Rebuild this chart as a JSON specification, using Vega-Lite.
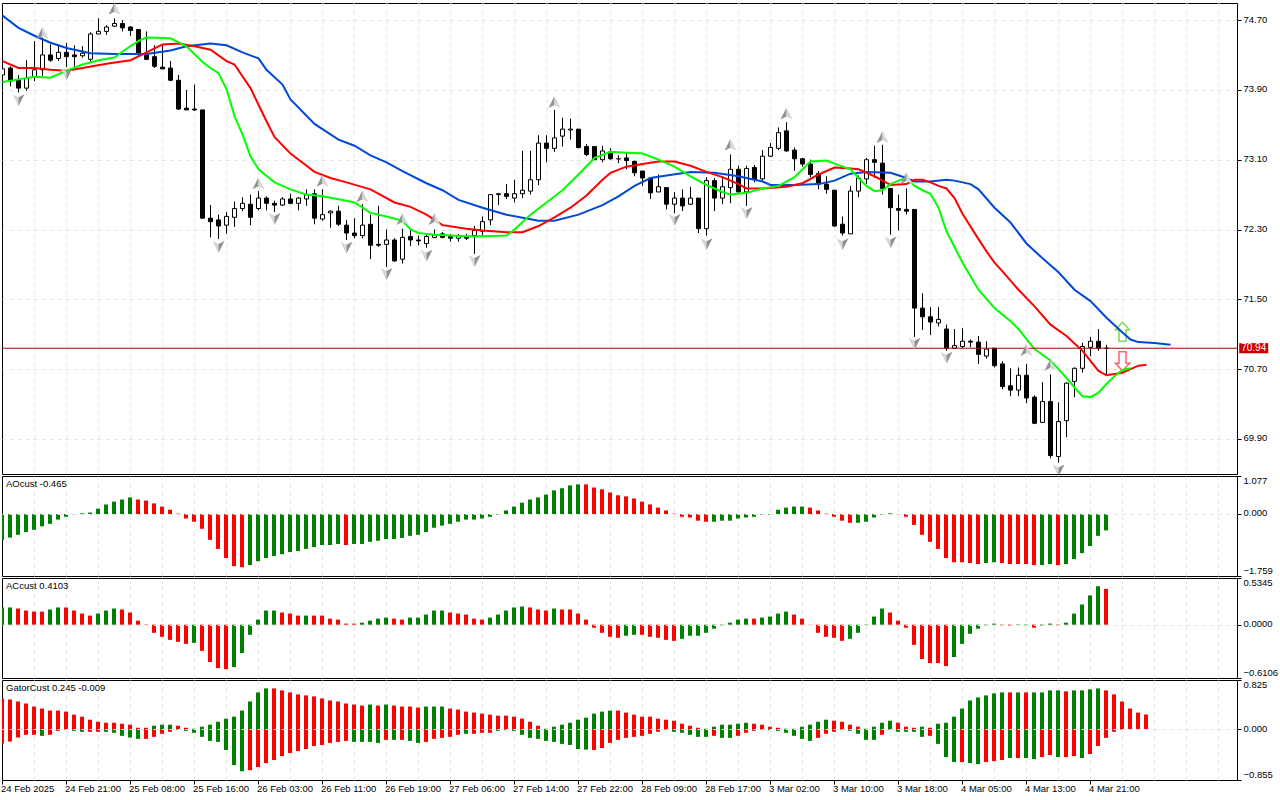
{
  "$schema": "https://vega.github.io/schema/vega-lite/v6.json",
  "background": "white",
  "padding": {"left": 0, "top": 2, "right": 0, "bottom": 0},
  "spacing": 2,
  "bounds": "flush",
  "resolve": {"scale": {"color": "independent"}},
  "config": {
    "view": {"stroke": "black", "strokeWidth": 1},
    "font": "Liberation Sans",
    "axis": {"labelFont": "Liberation Sans", "labelFontSize": 9.5, "labelColor": "black", "tickColor": "black", "gridColor": "#e4e4e4", "gridDash": [4, 4], "gridWidth": 1, "domain": false, "title": null, "labelBound": false}
  },
  "datasets": {
    "candles": [
      {"i":0,"o":74.07,"h":74.19,"l":74.02,"c":74.14},{"i":1,"o":74.15,"h":74.17,"l":73.94,"c":74.00},{"i":2,"o":74.01,"h":74.07,"l":73.87,"c":73.92},{"i":3,"o":73.92,"h":74.24,"l":73.89,"c":74.03},{"i":4,"o":74.05,"h":74.46,"l":74.00,"c":74.13},{"i":5,"o":74.13,"h":74.50,"l":74.06,"c":74.30},{"i":6,"o":74.30,"h":74.42,"l":74.22,"c":74.24},{"i":7,"o":74.26,"h":74.42,"l":74.23,"c":74.33},{"i":8,"o":74.33,"h":74.44,"l":74.16,"c":74.28},{"i":9,"o":74.30,"h":74.41,"l":74.15,"c":74.28},
      {"i":10,"o":74.29,"h":74.40,"l":74.27,"c":74.32},{"i":11,"o":74.25,"h":74.56,"l":74.21,"c":74.54},{"i":12,"o":74.54,"h":74.72,"l":74.54,"c":74.57},{"i":13,"o":74.57,"h":74.64,"l":74.53,"c":74.62},{"i":14,"o":74.63,"h":74.72,"l":74.62,"c":74.66},{"i":15,"o":74.66,"h":74.70,"l":74.57,"c":74.61},{"i":16,"o":74.62,"h":74.63,"l":74.52,"c":74.58},{"i":17,"o":74.59,"h":74.59,"l":74.29,"c":74.32},{"i":18,"o":74.30,"h":74.57,"l":74.24,"c":74.25},{"i":19,"o":74.28,"h":74.41,"l":74.15,"c":74.17},
      {"i":20,"o":74.16,"h":74.42,"l":74.14,"c":74.14},{"i":21,"o":74.15,"h":74.23,"l":74.00,"c":74.01},{"i":22,"o":74.01,"h":74.07,"l":73.67,"c":73.68},{"i":23,"o":73.69,"h":73.90,"l":73.67,"c":73.67},{"i":24,"o":73.68,"h":73.96,"l":73.66,"c":73.67},{"i":25,"o":73.67,"h":73.67,"l":72.42,"c":72.43},{"i":26,"o":72.43,"h":72.58,"l":72.21,"c":72.39},{"i":27,"o":72.41,"h":72.47,"l":72.19,"c":72.34},{"i":28,"o":72.35,"h":72.50,"l":72.25,"c":72.45},{"i":29,"o":72.44,"h":72.62,"l":72.33,"c":72.54},
      {"i":30,"o":72.54,"h":72.67,"l":72.51,"c":72.60},{"i":31,"o":72.59,"h":72.70,"l":72.35,"c":72.44},{"i":32,"o":72.54,"h":72.74,"l":72.52,"c":72.66},{"i":33,"o":72.66,"h":72.68,"l":72.52,"c":72.60},{"i":34,"o":72.60,"h":72.63,"l":72.50,"c":72.58},{"i":35,"o":72.58,"h":72.67,"l":72.57,"c":72.65},{"i":36,"o":72.65,"h":72.71,"l":72.59,"c":72.60},{"i":37,"o":72.60,"h":72.67,"l":72.52,"c":72.66},{"i":38,"o":72.65,"h":72.76,"l":72.57,"c":72.70},{"i":39,"o":72.71,"h":72.76,"l":72.36,"c":72.43},
      {"i":40,"o":72.42,"h":72.76,"l":72.40,"c":72.47},{"i":41,"o":72.49,"h":72.52,"l":72.32,"c":72.51},{"i":42,"o":72.51,"h":72.57,"l":72.34,"c":72.36},{"i":43,"o":72.35,"h":72.41,"l":72.18,"c":72.26},{"i":44,"o":72.26,"h":72.43,"l":72.20,"c":72.23},{"i":45,"o":72.23,"h":72.59,"l":72.20,"c":72.35},{"i":46,"o":72.36,"h":72.47,"l":71.96,"c":72.12},{"i":47,"o":72.13,"h":72.57,"l":72.10,"c":72.12},{"i":48,"o":72.13,"h":72.30,"l":71.87,"c":72.18},{"i":49,"o":72.18,"h":72.20,"l":71.93,"c":71.94},
      {"i":50,"o":71.96,"h":72.31,"l":71.91,"c":72.21},{"i":51,"o":72.22,"h":72.31,"l":72.11,"c":72.18},{"i":52,"o":72.18,"h":72.23,"l":72.12,"c":72.17},{"i":53,"o":72.14,"h":72.25,"l":72.09,"c":72.22},{"i":54,"o":72.21,"h":72.30,"l":72.20,"c":72.24},{"i":55,"o":72.25,"h":72.27,"l":72.20,"c":72.21},{"i":56,"o":72.22,"h":72.25,"l":72.16,"c":72.20},{"i":57,"o":72.20,"h":72.25,"l":72.16,"c":72.23},{"i":58,"o":72.22,"h":72.25,"l":72.18,"c":72.20},{"i":59,"o":72.23,"h":72.34,"l":72.02,"c":72.29},
      {"i":60,"o":72.28,"h":72.45,"l":72.23,"c":72.39},{"i":61,"o":72.41,"h":72.70,"l":72.35,"c":72.70},{"i":62,"o":72.70,"h":72.72,"l":72.58,"c":72.71},{"i":63,"o":72.71,"h":72.82,"l":72.65,"c":72.68},{"i":64,"o":72.66,"h":72.87,"l":72.61,"c":72.71},{"i":65,"o":72.71,"h":73.20,"l":72.66,"c":72.75},{"i":66,"o":72.74,"h":73.20,"l":72.70,"c":72.87},{"i":67,"o":72.87,"h":73.38,"l":72.81,"c":73.29},{"i":68,"o":73.29,"h":73.38,"l":73.07,"c":73.23},{"i":69,"o":73.23,"h":73.67,"l":73.19,"c":73.35},
      {"i":70,"o":73.37,"h":73.58,"l":73.25,"c":73.45},{"i":71,"o":73.44,"h":73.57,"l":73.33,"c":73.45},{"i":72,"o":73.45,"h":73.45,"l":73.23,"c":73.24},{"i":73,"o":73.25,"h":73.28,"l":73.14,"c":73.16},{"i":74,"o":73.25,"h":73.25,"l":73.10,"c":73.10},{"i":75,"o":73.10,"h":73.26,"l":73.07,"c":73.20},{"i":76,"o":73.19,"h":73.23,"l":73.10,"c":73.11},{"i":77,"o":73.11,"h":73.15,"l":73.06,"c":73.11},{"i":78,"o":73.12,"h":73.18,"l":72.99,"c":73.09},{"i":79,"o":73.08,"h":73.09,"l":72.91,"c":72.95},
      {"i":80,"o":72.97,"h":72.97,"l":72.80,"c":72.89},{"i":81,"o":72.89,"h":72.89,"l":72.65,"c":72.72},{"i":82,"o":72.73,"h":72.93,"l":72.73,"c":72.79},{"i":83,"o":72.78,"h":72.78,"l":72.53,"c":72.59},{"i":84,"o":72.59,"h":72.73,"l":72.49,"c":72.66},{"i":85,"o":72.66,"h":72.76,"l":72.51,"c":72.57},{"i":86,"o":72.59,"h":72.79,"l":72.58,"c":72.66},{"i":87,"o":72.66,"h":72.66,"l":72.26,"c":72.31},{"i":88,"o":72.31,"h":72.90,"l":72.23,"c":72.86},{"i":89,"o":72.86,"h":72.89,"l":72.51,"c":72.66},
      {"i":90,"o":72.66,"h":72.91,"l":72.59,"c":72.79},{"i":91,"o":72.78,"h":73.16,"l":72.60,"c":72.99},{"i":92,"o":72.99,"h":73.03,"l":72.72,"c":72.73},{"i":93,"o":72.73,"h":73.03,"l":72.57,"c":73.00},{"i":94,"o":73.01,"h":73.04,"l":72.84,"c":72.87},{"i":95,"o":72.88,"h":73.21,"l":72.86,"c":73.14},{"i":96,"o":73.14,"h":73.29,"l":73.13,"c":73.24},{"i":97,"o":73.23,"h":73.47,"l":73.21,"c":73.41},{"i":98,"o":73.43,"h":73.53,"l":73.19,"c":73.20},{"i":99,"o":73.21,"h":73.24,"l":72.97,"c":73.11},
      {"i":100,"o":73.11,"h":73.12,"l":73.02,"c":73.05},{"i":101,"o":73.05,"h":73.10,"l":72.90,"c":72.93},{"i":102,"o":72.94,"h":72.97,"l":72.76,"c":72.82},{"i":103,"o":72.82,"h":72.91,"l":72.71,"c":72.76},{"i":104,"o":72.75,"h":72.75,"l":72.33,"c":72.34},{"i":105,"o":72.36,"h":72.45,"l":72.23,"c":72.26},{"i":106,"o":72.25,"h":72.80,"l":72.25,"c":72.74},{"i":107,"o":72.74,"h":72.92,"l":72.67,"c":72.89},{"i":108,"o":72.88,"h":73.12,"l":72.82,"c":73.10},{"i":109,"o":73.10,"h":73.26,"l":72.89,"c":73.07},
      {"i":110,"o":73.06,"h":73.27,"l":72.70,"c":72.77},{"i":111,"o":72.77,"h":72.77,"l":72.24,"c":72.55},{"i":112,"o":72.54,"h":72.70,"l":72.29,"c":72.52},{"i":113,"o":72.53,"h":72.77,"l":72.47,"c":72.51},{"i":114,"o":72.53,"h":72.53,"l":71.07,"c":71.40},{"i":115,"o":71.40,"h":71.57,"l":71.15,"c":71.30},{"i":116,"o":71.30,"h":71.41,"l":71.09,"c":71.24},{"i":117,"o":71.23,"h":71.41,"l":71.19,"c":71.27},{"i":118,"o":71.16,"h":71.21,"l":70.91,"c":70.94},{"i":119,"o":70.94,"h":71.16,"l":70.94,"c":70.97},
      {"i":120,"o":70.96,"h":71.17,"l":70.94,"c":71.02},{"i":121,"o":71.02,"h":71.04,"l":70.95,"c":71.01},{"i":122,"o":71.01,"h":71.08,"l":70.76,"c":70.87},{"i":123,"o":70.85,"h":71.02,"l":70.82,"c":70.93},{"i":124,"o":70.94,"h":70.94,"l":70.72,"c":70.74},{"i":125,"o":70.76,"h":70.79,"l":70.47,"c":70.50},{"i":126,"o":70.51,"h":70.71,"l":70.39,"c":70.46},{"i":127,"o":70.46,"h":70.72,"l":70.39,"c":70.63},{"i":128,"o":70.63,"h":70.76,"l":70.31,"c":70.37},{"i":129,"o":70.38,"h":70.40,"l":70.07,"c":70.08},
      {"i":130,"o":70.09,"h":70.55,"l":70.09,"c":70.33},{"i":131,"o":70.33,"h":70.64,"l":69.68,"c":69.71},{"i":132,"o":69.70,"h":70.32,"l":69.63,"c":70.10},{"i":133,"o":70.11,"h":70.55,"l":69.92,"c":70.54},{"i":134,"o":70.56,"h":70.72,"l":70.38,"c":70.71},{"i":135,"o":70.71,"h":71.00,"l":70.66,"c":70.96},{"i":136,"o":70.95,"h":71.07,"l":70.85,"c":71.02},{"i":137,"o":71.02,"h":71.16,"l":70.91,"c":70.94},{"i":138,"o":70.94,"h":70.98,"l":70.63,"c":70.94}
    ],
    "alligator": [
      {"i":0,"v":74.75,"s":"Jaws"},{"i":2,"v":74.61,"s":"Jaws"},{"i":4,"v":74.52,"s":"Jaws"},{"i":6,"v":74.44,"s":"Jaws"},{"i":8,"v":74.38,"s":"Jaws"},{"i":11,"v":74.32,"s":"Jaws"},{"i":14,"v":74.31,"s":"Jaws"},{"i":18,"v":74.31,"s":"Jaws"},{"i":21,"v":74.35,"s":"Jaws"},{"i":23,"v":74.40,"s":"Jaws"},{"i":26,"v":74.43,"s":"Jaws"},{"i":28,"v":74.41,"s":"Jaws"},{"i":30,"v":74.33,"s":"Jaws"},{"i":32,"v":74.26,"s":"Jaws"},{"i":33,"v":74.13,"s":"Jaws"},{"i":35,"v":73.96,"s":"Jaws"},{"i":36,"v":73.79,"s":"Jaws"},{"i":39,"v":73.51,"s":"Jaws"},{"i":42,"v":73.33,"s":"Jaws"},{"i":44,"v":73.26,"s":"Jaws"},{"i":46,"v":73.15,"s":"Jaws"},{"i":48,"v":73.07,"s":"Jaws"},{"i":50,"v":72.97,"s":"Jaws"},{"i":53,"v":72.83,"s":"Jaws"},{"i":55,"v":72.75,"s":"Jaws"},{"i":57,"v":72.64,"s":"Jaws"},{"i":60,"v":72.55,"s":"Jaws"},{"i":63,"v":72.47,"s":"Jaws"},{"i":67,"v":72.40,"s":"Jaws"},{"i":69,"v":72.40,"s":"Jaws"},{"i":72,"v":72.47,"s":"Jaws"},{"i":75,"v":72.58,"s":"Jaws"},{"i":77,"v":72.68,"s":"Jaws"},{"i":79,"v":72.80,"s":"Jaws"},{"i":81,"v":72.89,"s":"Jaws"},{"i":83,"v":72.92,"s":"Jaws"},{"i":86,"v":72.96,"s":"Jaws"},{"i":89,"v":72.95,"s":"Jaws"},{"i":92,"v":72.91,"s":"Jaws"},{"i":95,"v":72.85,"s":"Jaws"},{"i":96,"v":72.81,"s":"Jaws"},{"i":99,"v":72.81,"s":"Jaws"},{"i":102,"v":72.82,"s":"Jaws"},{"i":104,"v":72.86,"s":"Jaws"},{"i":106,"v":72.94,"s":"Jaws"},{"i":108,"v":72.96,"s":"Jaws"},{"i":111,"v":72.95,"s":"Jaws"},{"i":113,"v":72.89,"s":"Jaws"},{"i":114,"v":72.85,"s":"Jaws"},{"i":116,"v":72.85,"s":"Jaws"},{"i":118,"v":72.87,"s":"Jaws"},{"i":119,"v":72.86,"s":"Jaws"},{"i":121,"v":72.82,"s":"Jaws"},{"i":122,"v":72.76,"s":"Jaws"},{"i":124,"v":72.55,"s":"Jaws"},{"i":126,"v":72.38,"s":"Jaws"},{"i":128,"v":72.14,"s":"Jaws"},{"i":130,"v":71.97,"s":"Jaws"},{"i":132,"v":71.81,"s":"Jaws"},{"i":134,"v":71.61,"s":"Jaws"},{"i":136,"v":71.48,"s":"Jaws"},{"i":138,"v":71.29,"s":"Jaws"},{"i":140,"v":71.12,"s":"Jaws"},{"i":141,"v":71.04,"s":"Jaws"},{"i":142,"v":71.01,"s":"Jaws"},{"i":144,"v":71.00,"s":"Jaws"},{"i":146,"v":70.98,"s":"Jaws"},
      {"i":0,"v":74.23,"s":"Teeth"},{"i":2,"v":74.15,"s":"Teeth"},{"i":4,"v":74.15,"s":"Teeth"},{"i":6,"v":74.13,"s":"Teeth"},{"i":8,"v":74.12,"s":"Teeth"},{"i":10,"v":74.15,"s":"Teeth"},{"i":13,"v":74.20,"s":"Teeth"},{"i":16,"v":74.24,"s":"Teeth"},{"i":18,"v":74.33,"s":"Teeth"},{"i":20,"v":74.42,"s":"Teeth"},{"i":22,"v":74.43,"s":"Teeth"},{"i":24,"v":74.40,"s":"Teeth"},{"i":26,"v":74.36,"s":"Teeth"},{"i":28,"v":74.23,"s":"Teeth"},{"i":29,"v":74.19,"s":"Teeth"},{"i":31,"v":73.92,"s":"Teeth"},{"i":33,"v":73.54,"s":"Teeth"},{"i":34,"v":73.36,"s":"Teeth"},{"i":36,"v":73.17,"s":"Teeth"},{"i":39,"v":72.96,"s":"Teeth"},{"i":41,"v":72.89,"s":"Teeth"},{"i":43,"v":72.84,"s":"Teeth"},{"i":46,"v":72.76,"s":"Teeth"},{"i":49,"v":72.61,"s":"Teeth"},{"i":51,"v":72.56,"s":"Teeth"},{"i":53,"v":72.47,"s":"Teeth"},{"i":55,"v":72.35,"s":"Teeth"},{"i":58,"v":72.31,"s":"Teeth"},{"i":60,"v":72.29,"s":"Teeth"},{"i":63,"v":72.27,"s":"Teeth"},{"i":65,"v":72.27,"s":"Teeth"},{"i":67,"v":72.34,"s":"Teeth"},{"i":69,"v":72.44,"s":"Teeth"},{"i":71,"v":72.55,"s":"Teeth"},{"i":73,"v":72.69,"s":"Teeth"},{"i":75,"v":72.87,"s":"Teeth"},{"i":76,"v":72.95,"s":"Teeth"},{"i":78,"v":73.02,"s":"Teeth"},{"i":80,"v":73.05,"s":"Teeth"},{"i":82,"v":73.08,"s":"Teeth"},{"i":84,"v":73.08,"s":"Teeth"},{"i":86,"v":73.03,"s":"Teeth"},{"i":88,"v":72.96,"s":"Teeth"},{"i":90,"v":72.90,"s":"Teeth"},{"i":92,"v":72.82,"s":"Teeth"},{"i":93,"v":72.77,"s":"Teeth"},{"i":95,"v":72.77,"s":"Teeth"},{"i":98,"v":72.79,"s":"Teeth"},{"i":100,"v":72.83,"s":"Teeth"},{"i":102,"v":72.93,"s":"Teeth"},{"i":104,"v":73.01,"s":"Teeth"},{"i":106,"v":73.00,"s":"Teeth"},{"i":107,"v":72.99,"s":"Teeth"},{"i":109,"v":72.91,"s":"Teeth"},{"i":110,"v":72.86,"s":"Teeth"},{"i":111,"v":72.81,"s":"Teeth"},{"i":113,"v":72.82,"s":"Teeth"},{"i":114,"v":72.87,"s":"Teeth"},{"i":115,"v":72.87,"s":"Teeth"},{"i":116,"v":72.84,"s":"Teeth"},{"i":117,"v":72.80,"s":"Teeth"},{"i":118,"v":72.77,"s":"Teeth"},{"i":119,"v":72.66,"s":"Teeth"},{"i":120,"v":72.48,"s":"Teeth"},{"i":122,"v":72.19,"s":"Teeth"},{"i":123,"v":72.05,"s":"Teeth"},{"i":124,"v":71.92,"s":"Teeth"},{"i":125,"v":71.82,"s":"Teeth"},{"i":127,"v":71.61,"s":"Teeth"},{"i":129,"v":71.42,"s":"Teeth"},{"i":131,"v":71.21,"s":"Teeth"},{"i":133,"v":71.08,"s":"Teeth"},{"i":135,"v":70.91,"s":"Teeth"},{"i":137,"v":70.68,"s":"Teeth"},{"i":138,"v":70.63,"s":"Teeth"},{"i":140,"v":70.66,"s":"Teeth"},{"i":141,"v":70.70,"s":"Teeth"},{"i":142,"v":70.74,"s":"Teeth"},{"i":143,"v":70.75,"s":"Teeth"},
      {"i":0,"v":73.99,"s":"Lips"},{"i":2,"v":74.02,"s":"Lips"},{"i":4,"v":74.05,"s":"Lips"},{"i":6,"v":74.04,"s":"Lips"},{"i":8,"v":74.12,"s":"Lips"},{"i":10,"v":74.19,"s":"Lips"},{"i":12,"v":74.24,"s":"Lips"},{"i":14,"v":74.27,"s":"Lips"},{"i":15,"v":74.34,"s":"Lips"},{"i":17,"v":74.46,"s":"Lips"},{"i":18,"v":74.50,"s":"Lips"},{"i":21,"v":74.49,"s":"Lips"},{"i":23,"v":74.40,"s":"Lips"},{"i":25,"v":74.22,"s":"Lips"},{"i":26,"v":74.15,"s":"Lips"},{"i":27,"v":74.09,"s":"Lips"},{"i":28,"v":73.91,"s":"Lips"},{"i":29,"v":73.60,"s":"Lips"},{"i":30,"v":73.39,"s":"Lips"},{"i":31,"v":73.14,"s":"Lips"},{"i":32,"v":72.99,"s":"Lips"},{"i":34,"v":72.84,"s":"Lips"},{"i":36,"v":72.76,"s":"Lips"},{"i":38,"v":72.70,"s":"Lips"},{"i":40,"v":72.68,"s":"Lips"},{"i":43,"v":72.63,"s":"Lips"},{"i":44,"v":72.61,"s":"Lips"},{"i":46,"v":72.49,"s":"Lips"},{"i":48,"v":72.45,"s":"Lips"},{"i":50,"v":72.40,"s":"Lips"},{"i":51,"v":72.30,"s":"Lips"},{"i":52,"v":72.26,"s":"Lips"},{"i":53,"v":72.25,"s":"Lips"},{"i":54,"v":72.24,"s":"Lips"},{"i":56,"v":72.23,"s":"Lips"},{"i":59,"v":72.22,"s":"Lips"},{"i":63,"v":72.23,"s":"Lips"},{"i":64,"v":72.30,"s":"Lips"},{"i":66,"v":72.47,"s":"Lips"},{"i":68,"v":72.61,"s":"Lips"},{"i":70,"v":72.75,"s":"Lips"},{"i":72,"v":72.93,"s":"Lips"},{"i":74,"v":73.12,"s":"Lips"},{"i":76,"v":73.19,"s":"Lips"},{"i":78,"v":73.18,"s":"Lips"},{"i":80,"v":73.17,"s":"Lips"},{"i":82,"v":73.10,"s":"Lips"},{"i":84,"v":73.02,"s":"Lips"},{"i":86,"v":72.91,"s":"Lips"},{"i":88,"v":72.81,"s":"Lips"},{"i":90,"v":72.73,"s":"Lips"},{"i":91,"v":72.70,"s":"Lips"},{"i":93,"v":72.72,"s":"Lips"},{"i":95,"v":72.77,"s":"Lips"},{"i":97,"v":72.80,"s":"Lips"},{"i":99,"v":72.90,"s":"Lips"},{"i":101,"v":73.08,"s":"Lips"},{"i":103,"v":73.09,"s":"Lips"},{"i":105,"v":73.02,"s":"Lips"},{"i":106,"v":72.99,"s":"Lips"},{"i":107,"v":72.89,"s":"Lips"},{"i":108,"v":72.80,"s":"Lips"},{"i":109,"v":72.74,"s":"Lips"},{"i":110,"v":72.75,"s":"Lips"},{"i":111,"v":72.82,"s":"Lips"},{"i":112,"v":72.86,"s":"Lips"},{"i":113,"v":72.89,"s":"Lips"},{"i":114,"v":72.80,"s":"Lips"},{"i":115,"v":72.75,"s":"Lips"},{"i":116,"v":72.71,"s":"Lips"},{"i":117,"v":72.55,"s":"Lips"},{"i":118,"v":72.28,"s":"Lips"},{"i":120,"v":71.92,"s":"Lips"},{"i":122,"v":71.61,"s":"Lips"},{"i":124,"v":71.40,"s":"Lips"},{"i":126,"v":71.25,"s":"Lips"},{"i":127,"v":71.16,"s":"Lips"},{"i":129,"v":70.93,"s":"Lips"},{"i":131,"v":70.80,"s":"Lips"},{"i":133,"v":70.60,"s":"Lips"},{"i":134,"v":70.49,"s":"Lips"},{"i":135,"v":70.39,"s":"Lips"},{"i":136,"v":70.38,"s":"Lips"},{"i":137,"v":70.43,"s":"Lips"},{"i":138,"v":70.53,"s":"Lips"},{"i":139,"v":70.62,"s":"Lips"},{"i":140,"v":70.69,"s":"Lips"},{"i":141,"v":70.71,"s":"Lips"}
    ],
    "fractalsUp": [{"i":5,"v":74.55},{"i":14,"v":74.83},{"i":32,"v":72.83},{"i":40,"v":72.86},{"i":45,"v":72.68},{"i":50,"v":72.42},{"i":54,"v":72.42},{"i":69,"v":73.76},{"i":91,"v":73.27},{"i":98,"v":73.63},{"i":110,"v":73.36},{"i":113,"v":72.89},{"i":128,"v":70.92},{"i":131,"v":70.75}],
    "fractalsDown": [{"i":2,"v":73.78},{"i":8,"v":74.08},{"i":27,"v":72.10},{"i":34,"v":72.42},{"i":43,"v":72.09},{"i":48,"v":71.79},{"i":53,"v":72.00},{"i":59,"v":71.94},{"i":84,"v":72.41},{"i":88,"v":72.13},{"i":93,"v":72.49},{"i":105,"v":72.13},{"i":111,"v":72.15},{"i":114,"v":70.99},{"i":118,"v":70.83},{"i":132,"v":69.54}],
    "ao": [
      {"i":0,"v":-0.745,"d":"up"},{"i":1,"v":-0.67,"d":"up"},{"i":2,"v":-0.59,"d":"up"},{"i":3,"v":-0.51,"d":"up"},{"i":4,"v":-0.45,"d":"up"},{"i":5,"v":-0.35,"d":"up"},{"i":6,"v":-0.28,"d":"up"},{"i":7,"v":-0.16,"d":"up"},{"i":8,"v":-0.08,"d":"up"},{"i":9,"v":-0.01,"d":"up"},{"i":10,"v":0.02,"d":"up"},{"i":11,"v":0.04,"d":"up"},{"i":12,"v":0.15,"d":"up"},{"i":13,"v":0.27,"d":"up"},{"i":14,"v":0.35,"d":"up"},{"i":15,"v":0.41,"d":"up"},{"i":16,"v":0.47,"d":"up"},{"i":17,"v":0.41,"d":"down"},{"i":18,"v":0.38,"d":"down"},{"i":19,"v":0.30,"d":"down"},{"i":20,"v":0.21,"d":"down"},{"i":21,"v":0.12,"d":"down"},{"i":22,"v":0.01,"d":"down"},{"i":23,"v":-0.13,"d":"down"},{"i":24,"v":-0.22,"d":"down"},{"i":25,"v":-0.42,"d":"down"},{"i":26,"v":-0.735,"d":"down"},{"i":27,"v":-0.99,"d":"down"},{"i":28,"v":-1.25,"d":"down"},{"i":29,"v":-1.48,"d":"down"},{"i":30,"v":-1.51,"d":"down"},{"i":31,"v":-1.45,"d":"up"},{"i":32,"v":-1.34,"d":"up"},{"i":33,"v":-1.25,"d":"up"},{"i":34,"v":-1.19,"d":"up"},{"i":35,"v":-1.14,"d":"up"},{"i":36,"v":-1.08,"d":"up"},{"i":37,"v":-1.05,"d":"up"},{"i":38,"v":-0.99,"d":"up"},{"i":39,"v":-0.94,"d":"up"},{"i":40,"v":-0.88,"d":"up"},{"i":41,"v":-0.88,"d":"up"},{"i":42,"v":-0.85,"d":"up"},{"i":43,"v":-0.88,"d":"down"},{"i":44,"v":-0.85,"d":"up"},{"i":45,"v":-0.85,"d":"up"},{"i":46,"v":-0.79,"d":"up"},{"i":47,"v":-0.76,"d":"up"},{"i":48,"v":-0.71,"d":"up"},{"i":49,"v":-0.71,"d":"up"},{"i":50,"v":-0.68,"d":"up"},{"i":51,"v":-0.62,"d":"up"},{"i":52,"v":-0.59,"d":"up"},{"i":53,"v":-0.51,"d":"up"},
      {"i":54,"v":-0.39,"d":"up"},{"i":55,"v":-0.33,"d":"up"},{"i":56,"v":-0.28,"d":"up"},{"i":57,"v":-0.22,"d":"up"},{"i":58,"v":-0.16,"d":"up"},{"i":59,"v":-0.16,"d":"up"},{"i":60,"v":-0.13,"d":"up"},{"i":61,"v":-0.08,"d":"up"},{"i":62,"v":-0.02,"d":"up"},{"i":63,"v":0.10,"d":"up"},{"i":64,"v":0.21,"d":"up"},{"i":65,"v":0.32,"d":"up"},{"i":66,"v":0.41,"d":"up"},{"i":67,"v":0.47,"d":"up"},{"i":68,"v":0.55,"d":"up"},{"i":69,"v":0.67,"d":"up"},{"i":70,"v":0.73,"d":"up"},{"i":71,"v":0.81,"d":"up"},{"i":72,"v":0.84,"d":"up"},{"i":73,"v":0.84,"d":"down"},{"i":74,"v":0.75,"d":"down"},{"i":75,"v":0.70,"d":"down"},{"i":76,"v":0.61,"d":"down"},{"i":77,"v":0.53,"d":"down"},{"i":78,"v":0.50,"d":"down"},{"i":79,"v":0.44,"d":"down"},{"i":80,"v":0.35,"d":"down"},{"i":81,"v":0.27,"d":"down"},{"i":82,"v":0.18,"d":"down"},{"i":83,"v":0.10,"d":"down"},{"i":84,"v":0.01,"d":"down"},{"i":85,"v":-0.08,"d":"down"},{"i":86,"v":-0.10,"d":"down"},{"i":87,"v":-0.19,"d":"down"},{"i":88,"v":-0.22,"d":"down"},{"i":89,"v":-0.22,"d":"up"},{"i":90,"v":-0.19,"d":"up"},{"i":91,"v":-0.19,"d":"up"},{"i":92,"v":-0.13,"d":"up"},{"i":93,"v":-0.10,"d":"up"},{"i":94,"v":-0.08,"d":"up"},{"i":95,"v":-0.02,"d":"up"},{"i":96,"v":-0.02,"d":"up"},{"i":97,"v":0.12,"d":"up"},{"i":98,"v":0.18,"d":"up"},{"i":99,"v":0.21,"d":"up"},{"i":100,"v":0.21,"d":"up"},{"i":101,"v":0.18,"d":"down"},{"i":102,"v":0.10,"d":"down"},{"i":103,"v":0.01,"d":"down"},{"i":104,"v":-0.08,"d":"down"},{"i":105,"v":-0.19,"d":"down"},{"i":106,"v":-0.25,"d":"down"},
      {"i":107,"v":-0.25,"d":"up"},{"i":108,"v":-0.22,"d":"up"},{"i":109,"v":-0.10,"d":"up"},{"i":110,"v":-0.02,"d":"up"},{"i":111,"v":0.02,"d":"up"},{"i":112,"v":-0.01,"d":"down"},{"i":113,"v":-0.08,"d":"down"},{"i":114,"v":-0.31,"d":"down"},{"i":115,"v":-0.59,"d":"down"},{"i":116,"v":-0.79,"d":"down"},{"i":117,"v":-0.99,"d":"down"},{"i":118,"v":-1.25,"d":"down"},{"i":119,"v":-1.37,"d":"down"},{"i":120,"v":-1.37,"d":"down"},{"i":121,"v":-1.39,"d":"down"},{"i":122,"v":-1.42,"d":"down"},{"i":123,"v":-1.39,"d":"up"},{"i":124,"v":-1.37,"d":"up"},{"i":125,"v":-1.39,"d":"down"},{"i":126,"v":-1.42,"d":"down"},{"i":127,"v":-1.42,"d":"down"},{"i":128,"v":-1.42,"d":"down"},{"i":129,"v":-1.45,"d":"down"},{"i":130,"v":-1.45,"d":"up"},{"i":131,"v":-1.42,"d":"up"},{"i":132,"v":-1.45,"d":"down"},{"i":133,"v":-1.42,"d":"up"},{"i":134,"v":-1.28,"d":"up"},{"i":135,"v":-1.11,"d":"up"},{"i":136,"v":-0.91,"d":"up"},{"i":137,"v":-0.62,"d":"up"},{"i":138,"v":-0.465,"d":"up"}
    ],
    "ac": [
      {"i":0,"v":0.197,"d":"up"},{"i":1,"v":0.197,"d":"up"},{"i":2,"v":0.185,"d":"down"},{"i":3,"v":0.162,"d":"down"},{"i":4,"v":0.15,"d":"down"},{"i":5,"v":0.15,"d":"down"},{"i":6,"v":0.174,"d":"up"},{"i":7,"v":0.197,"d":"up"},{"i":8,"v":0.197,"d":"down"},{"i":9,"v":0.162,"d":"down"},{"i":10,"v":0.127,"d":"down"},{"i":11,"v":0.104,"d":"down"},{"i":12,"v":0.127,"d":"up"},{"i":13,"v":0.162,"d":"up"},{"i":14,"v":0.185,"d":"up"},{"i":15,"v":0.174,"d":"down"},{"i":16,"v":0.139,"d":"down"},{"i":17,"v":0.046,"d":"down"},{"i":18,"v":-0.004,"d":"down"},{"i":19,"v":-0.093,"d":"down"},{"i":20,"v":-0.139,"d":"down"},{"i":21,"v":-0.174,"d":"down"},{"i":22,"v":-0.197,"d":"down"},{"i":23,"v":-0.22,"d":"down"},{"i":24,"v":-0.208,"d":"up"},{"i":25,"v":-0.30,"d":"down"},{"i":26,"v":-0.428,"d":"down"},{"i":27,"v":-0.497,"d":"down"},{"i":28,"v":-0.509,"d":"down"},{"i":29,"v":-0.486,"d":"up"},{"i":30,"v":-0.324,"d":"up"},{"i":31,"v":-0.116,"d":"up"},{"i":32,"v":0.058,"d":"up"},{"i":33,"v":0.162,"d":"up"},{"i":34,"v":0.162,"d":"up"},{"i":35,"v":0.139,"d":"down"},{"i":36,"v":0.127,"d":"down"},{"i":37,"v":0.104,"d":"down"},{"i":38,"v":0.104,"d":"up"},{"i":39,"v":0.104,"d":"down"},{"i":40,"v":0.104,"d":"down"},{"i":41,"v":0.069,"d":"down"},{"i":42,"v":0.058,"d":"down"},{"i":43,"v":0.012,"d":"down"},{"i":44,"v":0.012,"d":"down"},{"i":45,"v":0.023,"d":"up"},{"i":46,"v":0.046,"d":"up"},{"i":47,"v":0.069,"d":"up"},{"i":48,"v":0.081,"d":"up"},{"i":49,"v":0.069,"d":"down"},{"i":50,"v":0.058,"d":"down"},{"i":51,"v":0.081,"d":"up"},{"i":52,"v":0.081,"d":"up"},{"i":53,"v":0.116,"d":"up"},
      {"i":54,"v":0.162,"d":"up"},{"i":55,"v":0.162,"d":"up"},{"i":56,"v":0.139,"d":"down"},{"i":57,"v":0.127,"d":"down"},{"i":58,"v":0.116,"d":"down"},{"i":59,"v":0.069,"d":"down"},{"i":60,"v":0.058,"d":"down"},{"i":61,"v":0.081,"d":"up"},{"i":62,"v":0.116,"d":"up"},{"i":63,"v":0.162,"d":"up"},{"i":64,"v":0.197,"d":"up"},{"i":65,"v":0.208,"d":"up"},{"i":66,"v":0.197,"d":"down"},{"i":67,"v":0.174,"d":"down"},{"i":68,"v":0.162,"d":"down"},{"i":69,"v":0.185,"d":"up"},{"i":70,"v":0.174,"d":"down"},{"i":71,"v":0.174,"d":"down"},{"i":72,"v":0.127,"d":"down"},{"i":73,"v":0.058,"d":"down"},{"i":74,"v":-0.035,"d":"down"},{"i":75,"v":-0.093,"d":"down"},{"i":76,"v":-0.139,"d":"down"},{"i":77,"v":-0.15,"d":"down"},{"i":78,"v":-0.127,"d":"up"},{"i":79,"v":-0.116,"d":"up"},{"i":80,"v":-0.116,"d":"down"},{"i":81,"v":-0.139,"d":"down"},{"i":82,"v":-0.15,"d":"down"},{"i":83,"v":-0.174,"d":"down"},{"i":84,"v":-0.185,"d":"down"},{"i":85,"v":-0.162,"d":"up"},{"i":86,"v":-0.127,"d":"up"},{"i":87,"v":-0.127,"d":"up"},{"i":88,"v":-0.093,"d":"up"},{"i":89,"v":-0.046,"d":"up"},{"i":90,"v":-0.008,"d":"up"},{"i":91,"v":0.023,"d":"up"},{"i":92,"v":0.058,"d":"up"},{"i":93,"v":0.069,"d":"up"},{"i":94,"v":0.069,"d":"down"},{"i":95,"v":0.081,"d":"up"},{"i":96,"v":0.093,"d":"up"},{"i":97,"v":0.127,"d":"up"},{"i":98,"v":0.15,"d":"up"},{"i":99,"v":0.116,"d":"down"},{"i":100,"v":0.069,"d":"down"},{"i":101,"v":0.002,"d":"down"},{"i":102,"v":-0.093,"d":"down"},{"i":103,"v":-0.139,"d":"down"},{"i":104,"v":-0.15,"d":"down"},{"i":105,"v":-0.185,"d":"down"},{"i":106,"v":-0.162,"d":"up"},{"i":107,"v":-0.093,"d":"up"},
      {"i":108,"v":-0.004,"d":"up"},{"i":109,"v":0.093,"d":"up"},{"i":110,"v":0.185,"d":"up"},{"i":111,"v":0.139,"d":"down"},{"i":112,"v":0.046,"d":"down"},{"i":113,"v":-0.035,"d":"down"},{"i":114,"v":-0.231,"d":"down"},{"i":115,"v":-0.393,"d":"down"},{"i":116,"v":-0.44,"d":"down"},{"i":117,"v":-0.44,"d":"down"},{"i":118,"v":-0.474,"d":"down"},{"i":119,"v":-0.37,"d":"up"},{"i":120,"v":-0.22,"d":"up"},{"i":121,"v":-0.104,"d":"up"},{"i":122,"v":-0.046,"d":"up"},{"i":123,"v":-0.008,"d":"up"},{"i":124,"v":0.012,"d":"up"},{"i":125,"v":-0.008,"d":"down"},{"i":126,"v":-0.012,"d":"down"},{"i":127,"v":0.004,"d":"up"},{"i":128,"v":-0.008,"d":"up"},{"i":129,"v":-0.035,"d":"down"},{"i":130,"v":-0.012,"d":"up"},{"i":131,"v":0.012,"d":"up"},{"i":132,"v":-0.008,"d":"down"},{"i":133,"v":0.023,"d":"up"},{"i":134,"v":0.127,"d":"up"},{"i":135,"v":0.231,"d":"up"},{"i":136,"v":0.335,"d":"up"},{"i":137,"v":0.44,"d":"up"},{"i":138,"v":0.41,"d":"down"}
    ],
    "gator": [
      {"i":0,"v":0.509,"d":"down"},{"i":0,"v":-0.243,"d":"down"},{"i":1,"v":0.498,"d":"down"},{"i":1,"v":-0.209,"d":"down"},{"i":2,"v":0.464,"d":"down"},{"i":2,"v":-0.141,"d":"down"},{"i":3,"v":0.43,"d":"down"},{"i":3,"v":-0.096,"d":"down"},{"i":4,"v":0.379,"d":"down"},{"i":4,"v":-0.096,"d":"down"},{"i":5,"v":0.345,"d":"down"},{"i":5,"v":-0.113,"d":"up"},{"i":6,"v":0.311,"d":"down"},{"i":6,"v":-0.096,"d":"down"},{"i":7,"v":0.311,"d":"down"},{"i":7,"v":-0.028,"d":"down"},{"i":8,"v":0.294,"d":"down"},{"i":8,"v":-0.011,"d":"down"},{"i":9,"v":0.243,"d":"down"},{"i":9,"v":-0.028,"d":"up"},
      {"i":10,"v":0.209,"d":"down"},{"i":10,"v":-0.045,"d":"up"},{"i":11,"v":0.158,"d":"down"},{"i":11,"v":-0.045,"d":"down"},{"i":12,"v":0.124,"d":"down"},{"i":12,"v":-0.045,"d":"down"},{"i":13,"v":0.107,"d":"down"},{"i":13,"v":-0.045,"d":"up"},{"i":14,"v":0.107,"d":"down"},{"i":14,"v":-0.062,"d":"up"},{"i":15,"v":0.09,"d":"down"},{"i":15,"v":-0.113,"d":"up"},{"i":16,"v":0.074,"d":"down"},{"i":16,"v":-0.141,"d":"up"},{"i":17,"v":0.023,"d":"down"},{"i":17,"v":-0.164,"d":"up"},{"i":18,"v":0.023,"d":"down"},{"i":18,"v":-0.164,"d":"down"},{"i":19,"v":0.057,"d":"up"},{"i":19,"v":-0.13,"d":"down"},
      {"i":20,"v":0.074,"d":"up"},{"i":20,"v":-0.079,"d":"down"},{"i":21,"v":0.074,"d":"up"},{"i":21,"v":-0.045,"d":"down"},{"i":22,"v":0.057,"d":"down"},{"i":22,"v":-0.011,"d":"up"},{"i":23,"v":0.023,"d":"down"},{"i":23,"v":-0.028,"d":"up"},{"i":24,"v":0.006,"d":"up"},{"i":24,"v":-0.062,"d":"up"},{"i":25,"v":0.04,"d":"up"},{"i":25,"v":-0.13,"d":"up"},{"i":26,"v":0.074,"d":"up"},{"i":26,"v":-0.198,"d":"up"},{"i":27,"v":0.124,"d":"up"},{"i":27,"v":-0.215,"d":"up"},{"i":28,"v":0.175,"d":"up"},{"i":28,"v":-0.351,"d":"up"},{"i":29,"v":0.209,"d":"up"},{"i":29,"v":-0.605,"d":"up"},
      {"i":30,"v":0.311,"d":"up"},{"i":30,"v":-0.707,"d":"up"},{"i":31,"v":0.464,"d":"up"},{"i":31,"v":-0.69,"d":"down"},{"i":32,"v":0.617,"d":"up"},{"i":32,"v":-0.639,"d":"down"},{"i":33,"v":0.684,"d":"up"},{"i":33,"v":-0.571,"d":"down"},{"i":34,"v":0.684,"d":"down"},{"i":34,"v":-0.52,"d":"down"},{"i":35,"v":0.651,"d":"down"},{"i":35,"v":-0.453,"d":"down"},{"i":36,"v":0.617,"d":"down"},{"i":36,"v":-0.402,"d":"down"},{"i":37,"v":0.583,"d":"down"},{"i":37,"v":-0.368,"d":"down"},{"i":38,"v":0.566,"d":"down"},{"i":38,"v":-0.334,"d":"down"},{"i":39,"v":0.549,"d":"down"},{"i":39,"v":-0.283,"d":"down"},
      {"i":40,"v":0.515,"d":"down"},{"i":40,"v":-0.266,"d":"down"},{"i":41,"v":0.481,"d":"down"},{"i":41,"v":-0.232,"d":"down"},{"i":42,"v":0.464,"d":"down"},{"i":42,"v":-0.215,"d":"down"},{"i":43,"v":0.43,"d":"down"},{"i":43,"v":-0.198,"d":"down"},{"i":44,"v":0.413,"d":"down"},{"i":44,"v":-0.215,"d":"up"},{"i":45,"v":0.396,"d":"down"},{"i":45,"v":-0.215,"d":"up"},{"i":46,"v":0.413,"d":"up"},{"i":46,"v":-0.215,"d":"up"},{"i":47,"v":0.396,"d":"down"},{"i":47,"v":-0.232,"d":"up"},{"i":48,"v":0.413,"d":"up"},{"i":48,"v":-0.181,"d":"down"},{"i":49,"v":0.396,"d":"down"},{"i":49,"v":-0.181,"d":"up"},
      {"i":50,"v":0.379,"d":"down"},{"i":50,"v":-0.181,"d":"down"},{"i":51,"v":0.379,"d":"down"},{"i":51,"v":-0.198,"d":"up"},{"i":52,"v":0.362,"d":"down"},{"i":52,"v":-0.232,"d":"up"},{"i":53,"v":0.379,"d":"up"},{"i":53,"v":-0.215,"d":"down"},{"i":54,"v":0.379,"d":"up"},{"i":54,"v":-0.164,"d":"down"},{"i":55,"v":0.379,"d":"up"},{"i":55,"v":-0.147,"d":"down"},{"i":56,"v":0.345,"d":"down"},{"i":56,"v":-0.13,"d":"down"},{"i":57,"v":0.328,"d":"down"},{"i":57,"v":-0.096,"d":"down"},{"i":58,"v":0.294,"d":"down"},{"i":58,"v":-0.079,"d":"up"},{"i":59,"v":0.277,"d":"down"},{"i":59,"v":-0.079,"d":"down"},
      {"i":60,"v":0.26,"d":"down"},{"i":60,"v":-0.062,"d":"down"},{"i":61,"v":0.243,"d":"down"},{"i":61,"v":-0.062,"d":"down"},{"i":62,"v":0.226,"d":"down"},{"i":62,"v":-0.028,"d":"up"},{"i":63,"v":0.226,"d":"down"},{"i":63,"v":-0.017,"d":"up"},{"i":64,"v":0.209,"d":"down"},{"i":64,"v":-0.028,"d":"up"},{"i":65,"v":0.175,"d":"down"},{"i":65,"v":-0.096,"d":"up"},{"i":66,"v":0.124,"d":"down"},{"i":66,"v":-0.147,"d":"up"},{"i":67,"v":0.057,"d":"down"},{"i":67,"v":-0.164,"d":"up"},{"i":68,"v":0.006,"d":"up"},{"i":68,"v":-0.198,"d":"up"},{"i":69,"v":0.04,"d":"up"},{"i":69,"v":-0.215,"d":"up"},
      {"i":70,"v":0.074,"d":"up"},{"i":70,"v":-0.249,"d":"up"},{"i":71,"v":0.107,"d":"up"},{"i":71,"v":-0.266,"d":"up"},{"i":72,"v":0.158,"d":"up"},{"i":72,"v":-0.334,"d":"up"},{"i":73,"v":0.192,"d":"up"},{"i":73,"v":-0.345,"d":"up"},{"i":74,"v":0.26,"d":"up"},{"i":74,"v":-0.351,"d":"down"},{"i":75,"v":0.294,"d":"up"},{"i":75,"v":-0.317,"d":"down"},{"i":76,"v":0.311,"d":"up"},{"i":76,"v":-0.232,"d":"down"},{"i":77,"v":0.311,"d":"down"},{"i":77,"v":-0.181,"d":"down"},{"i":78,"v":0.277,"d":"down"},{"i":78,"v":-0.147,"d":"down"},{"i":79,"v":0.243,"d":"down"},{"i":79,"v":-0.13,"d":"down"},
      {"i":80,"v":0.209,"d":"down"},{"i":80,"v":-0.113,"d":"down"},{"i":81,"v":0.209,"d":"down"},{"i":81,"v":-0.079,"d":"down"},{"i":82,"v":0.175,"d":"down"},{"i":82,"v":-0.045,"d":"down"},{"i":83,"v":0.158,"d":"down"},{"i":83,"v":-0.011,"d":"down"},{"i":84,"v":0.141,"d":"down"},{"i":84,"v":-0.045,"d":"up"},{"i":85,"v":0.09,"d":"down"},{"i":85,"v":-0.062,"d":"up"},{"i":86,"v":0.057,"d":"down"},{"i":86,"v":-0.096,"d":"up"},{"i":87,"v":0.023,"d":"down"},{"i":87,"v":-0.13,"d":"up"},{"i":88,"v":0.006,"d":"up"},{"i":88,"v":-0.13,"d":"up"},{"i":89,"v":0.04,"d":"up"},{"i":89,"v":-0.113,"d":"down"},
      {"i":90,"v":0.074,"d":"up"},{"i":90,"v":-0.147,"d":"up"},{"i":91,"v":0.074,"d":"up"},{"i":91,"v":-0.147,"d":"up"},{"i":92,"v":0.09,"d":"up"},{"i":92,"v":-0.113,"d":"down"},{"i":93,"v":0.107,"d":"up"},{"i":93,"v":-0.062,"d":"down"},{"i":94,"v":0.09,"d":"down"},{"i":94,"v":-0.028,"d":"down"},{"i":95,"v":0.074,"d":"down"},{"i":95,"v":-0.011,"d":"down"},{"i":96,"v":0.04,"d":"down"},{"i":96,"v":-0.017,"d":"up"},{"i":97,"v":0.023,"d":"down"},{"i":97,"v":-0.028,"d":"up"},{"i":98,"v":0.006,"d":"up"},{"i":98,"v":-0.062,"d":"up"},{"i":99,"v":0.006,"d":"up"},{"i":99,"v":-0.113,"d":"up"},
      {"i":100,"v":0.04,"d":"up"},{"i":100,"v":-0.164,"d":"up"},{"i":101,"v":0.074,"d":"up"},{"i":101,"v":-0.198,"d":"up"},{"i":102,"v":0.124,"d":"up"},{"i":102,"v":-0.147,"d":"down"},{"i":103,"v":0.158,"d":"up"},{"i":103,"v":-0.079,"d":"down"},{"i":104,"v":0.141,"d":"down"},{"i":104,"v":-0.045,"d":"down"},{"i":105,"v":0.124,"d":"down"},{"i":105,"v":-0.011,"d":"down"},{"i":106,"v":0.074,"d":"down"},{"i":106,"v":-0.028,"d":"up"},{"i":107,"v":0.04,"d":"down"},{"i":107,"v":-0.079,"d":"up"},{"i":108,"v":0.006,"d":"up"},{"i":108,"v":-0.181,"d":"up"},{"i":109,"v":0.04,"d":"up"},{"i":109,"v":-0.181,"d":"up"},
      {"i":110,"v":0.107,"d":"up"},{"i":110,"v":-0.096,"d":"down"},{"i":111,"v":0.141,"d":"up"},{"i":111,"v":-0.011,"d":"down"},{"i":112,"v":0.107,"d":"down"},{"i":112,"v":-0.045,"d":"up"},{"i":113,"v":0.04,"d":"down"},{"i":113,"v":-0.045,"d":"up"},{"i":114,"v":0.023,"d":"down"},{"i":114,"v":-0.045,"d":"up"},{"i":115,"v":0.04,"d":"up"},{"i":115,"v":-0.13,"d":"up"},{"i":116,"v":0.023,"d":"down"},{"i":116,"v":-0.113,"d":"down"},{"i":117,"v":0.09,"d":"up"},{"i":117,"v":-0.249,"d":"up"},{"i":118,"v":0.107,"d":"up"},{"i":118,"v":-0.47,"d":"up"},{"i":119,"v":0.209,"d":"up"},{"i":119,"v":-0.554,"d":"up"},
      {"i":120,"v":0.345,"d":"up"},{"i":120,"v":-0.554,"d":"down"},{"i":121,"v":0.481,"d":"up"},{"i":121,"v":-0.571,"d":"up"},{"i":122,"v":0.532,"d":"up"},{"i":122,"v":-0.588,"d":"up"},{"i":123,"v":0.566,"d":"up"},{"i":123,"v":-0.554,"d":"down"},{"i":124,"v":0.6,"d":"up"},{"i":124,"v":-0.537,"d":"down"},{"i":125,"v":0.617,"d":"up"},{"i":125,"v":-0.52,"d":"down"},{"i":126,"v":0.617,"d":"down"},{"i":126,"v":-0.486,"d":"up"},{"i":127,"v":0.617,"d":"up"},{"i":127,"v":-0.486,"d":"down"},{"i":128,"v":0.617,"d":"down"},{"i":128,"v":-0.486,"d":"up"},{"i":129,"v":0.617,"d":"up"},{"i":129,"v":-0.503,"d":"up"},
      {"i":130,"v":0.617,"d":"up"},{"i":130,"v":-0.47,"d":"down"},{"i":131,"v":0.651,"d":"up"},{"i":131,"v":-0.436,"d":"down"},{"i":132,"v":0.651,"d":"up"},{"i":132,"v":-0.47,"d":"up"},{"i":133,"v":0.634,"d":"down"},{"i":133,"v":-0.47,"d":"down"},{"i":134,"v":0.651,"d":"up"},{"i":134,"v":-0.453,"d":"down"},{"i":135,"v":0.651,"d":"up"},{"i":135,"v":-0.486,"d":"up"},{"i":136,"v":0.668,"d":"up"},{"i":136,"v":-0.419,"d":"down"},{"i":137,"v":0.684,"d":"up"},{"i":137,"v":-0.283,"d":"down"},{"i":138,"v":0.651,"d":"down"},{"i":138,"v":-0.147,"d":"down"},{"i":139,"v":0.583,"d":"down"},{"i":139,"v":-0.045,"d":"down"},
      {"i":140,"v":0.464,"d":"down"},{"i":140,"v":-0.011,"d":"down"},{"i":141,"v":0.345,"d":"down"},{"i":142,"v":0.277,"d":"down"},{"i":143,"v":0.245,"d":"down"}
    ]
  },
  "vconcat": [
    {
      "width": 1235,
      "height": 471,
      "encoding": {
        "x": {"field": "i", "type": "quantitative", "scale": {"domain": [-0.0625, 154.3125], "nice": false, "zero": false, "padding": 0},
          "axis": {"values": [4,8,12,16,20,24,28,32,36,40,44,48,52,56,60,64,68,72,76,80,84,88,92,96,100,104,108,112,116,120,124,128,132,136,140,144,148,152], "labels": false, "ticks": false, "grid": true, "translate": 0}}
      },
      "layer": [
        {
          "data": {"name": "candles"},
          "mark": {"type": "rule", "color": "black", "strokeWidth": 1, "clip": true},
          "encoding": {
            "y": {"field": "l", "type": "quantitative", "scale": {"domain": [69.499, 74.895], "nice": false, "zero": false},
              "axis": {"orient": "right", "values": [74.7,74.3,73.9,73.5,73.1,72.7,72.3,71.9,71.5,71.1,70.7,70.3,69.9], "format": ".2f", "grid": true, "tickSize": 4, "labelPadding": 2, "labelOverlap": false, "labelOffset": -1}},
            "y2": {"field": "h"}
          }
        },
        {
          "data": {"name": "candles"},
          "mark": {"type": "bar", "size": 4, "orient": "vertical", "stroke": "black", "strokeWidth": 1, "clip": true},
          "encoding": {
            "y": {"field": "o", "type": "quantitative"},
            "y2": {"field": "c"},
            "fill": {"condition": {"test": "datum.c > datum.o", "value": "white"}, "value": "black"}
          }
        },
        {
          "data": {"values": [{"i": 140, "v": 71.13}]},
          "mark": {"type": "point", "filled": true, "fill": "white", "stroke": "#7ed957", "strokeWidth": 1.5, "opacity": 1, "size": 361, "shape": "M0,-1L.74,-.2H.37V1H-.37V-.2H-.74Z"},
          "encoding": {"y": {"field": "v", "type": "quantitative"}}
        },
        {
          "data": {"values": [{"i": 140, "v": 70.79}]},
          "mark": {"type": "point", "filled": true, "fill": "white", "stroke": "#ff5f6a", "strokeWidth": 1.5, "opacity": 1, "size": 361, "shape": "M0,1L.74,.2H.37V-1H-.37V.2H-.74Z"},
          "encoding": {"y": {"field": "v", "type": "quantitative"}}
        },
        {
          "data": {"name": "alligator"},
          "mark": {"type": "line", "strokeWidth": 2, "clip": true},
          "encoding": {
            "y": {"field": "v", "type": "quantitative"},
            "color": {"field": "s", "type": "nominal", "legend": null, "sort": null, "scale": {"domain": ["Jaws", "Teeth", "Lips"], "range": ["#0048d8", "#ff0000", "#00ff00"]}}
          }
        },
        {
          "data": {"values": [{"from": -0.0625, "to": 154.3125, "bid": 70.94}]},
          "mark": {"type": "rule", "color": "#b00000", "strokeWidth": 1},
          "encoding": {"x": {"field": "from", "type": "quantitative"}, "x2": {"field": "to"}, "y": {"field": "bid", "type": "quantitative"}}
        },
        {
          "data": {"name": "fractalsUp"},
          "mark": {"type": "point", "filled": true, "fill": "#8f949c", "opacity": 1, "size": 144, "shape": "M0,-1L0,.5L-1,1Z", "clip": true},
          "encoding": {"y": {"field": "v", "type": "quantitative"}}
        },
        {
          "data": {"name": "fractalsUp"},
          "mark": {"type": "point", "filled": true, "fill": "#d6d6d6", "opacity": 1, "size": 144, "shape": "M0,-1L1,1L0,.5Z", "clip": true},
          "encoding": {"y": {"field": "v", "type": "quantitative"}}
        },
        {
          "data": {"name": "fractalsDown"},
          "mark": {"type": "point", "filled": true, "fill": "#d6d6d6", "opacity": 1, "size": 144, "shape": "M0,1L0,-.5L-1,-1Z", "clip": true},
          "encoding": {"y": {"field": "v", "type": "quantitative"}}
        },
        {
          "data": {"name": "fractalsDown"},
          "mark": {"type": "point", "filled": true, "fill": "#8f9088", "opacity": 1, "size": 144, "shape": "M0,1L1,-1L0,-.5Z", "clip": true},
          "encoding": {"y": {"field": "v", "type": "quantitative"}}
        },
        {
          "data": {"values": [{"i": 156.4, "v": 70.94, "label": "70.94"}]},
          "mark": {"type": "point", "filled": true, "fill": "#cc0000", "opacity": 1, "size": 841, "shape": "M-1,-.35H1V.35H-1Z"},
          "encoding": {"y": {"field": "v", "type": "quantitative"}}
        },
        {
          "data": {"values": [{"i": 156.4, "v": 70.94, "label": "70.94"}]},
          "mark": {"type": "text", "color": "white", "fontSize": 10, "align": "center", "baseline": "middle"},
          "encoding": {"y": {"field": "v", "type": "quantitative"}, "text": {"field": "label"}}
        }
      ]
    },
    {
      "width": 1235,
      "height": 100,
      "encoding": {
        "x": {"field": "i", "type": "quantitative", "scale": {"domain": [0, 154.375], "nice": false, "zero": false, "padding": 0},
          "axis": {"values": [4,8,12,16,20,24,28,32,36,40,44,48,52,56,60,64,68,72,76,80,84,88,92,96,100,104,108,112,116,120,124,128,132,136,140,144,148,152], "labels": false, "ticks": false, "grid": true}}
      },
      "layer": [
        {
          "data": {"name": "ao"},
          "mark": {"type": "bar", "size": 4, "orient": "vertical", "clip": true},
          "encoding": {
            "y": {"field": "v", "type": "quantitative", "scale": {"domain": [-1.759, 1.077], "nice": false, "zero": false},
              "axis": {"orient": "right", "values": [1.077, 0, -1.759], "format": ".3f", "grid": true, "gridOpacity": {"condition": {"test": "datum.value == 0", "value": 1}, "value": 0}, "tickSize": 4, "labelPadding": 2, "labelFlush": true, "labelOverlap": false, "labelOffset": -1, "zindex": 1}},
            "y2": {"datum": 0},
            "color": {"field": "d", "type": "nominal", "legend": null, "scale": {"domain": ["up", "down"], "range": ["#008000", "#ff0000"]}}
          }
        },
        {
          "data": {"values": [{"i": 0.5, "v": 0.85, "label": "AOcust -0.465"}]},
          "mark": {"type": "text", "align": "left", "baseline": "middle", "fontSize": 9.5, "color": "black"},
          "encoding": {"y": {"field": "v", "type": "quantitative"}, "text": {"field": "label"}}
        }
      ]
    },
    {
      "width": 1235,
      "height": 100,
      "encoding": {
        "x": {"field": "i", "type": "quantitative", "scale": {"domain": [0, 154.375], "nice": false, "zero": false, "padding": 0},
          "axis": {"values": [4,8,12,16,20,24,28,32,36,40,44,48,52,56,60,64,68,72,76,80,84,88,92,96,100,104,108,112,116,120,124,128,132,136,140,144,148,152], "labels": false, "ticks": false, "grid": true}}
      },
      "layer": [
        {
          "data": {"name": "ac"},
          "mark": {"type": "bar", "size": 4, "orient": "vertical", "clip": true},
          "encoding": {
            "y": {"field": "v", "type": "quantitative", "scale": {"domain": [-0.6106, 0.5345], "nice": false, "zero": false},
              "axis": {"orient": "right", "values": [0.5345, 0, -0.6106], "format": ".4f", "grid": true, "gridOpacity": {"condition": {"test": "datum.value == 0", "value": 1}, "value": 0}, "tickSize": 4, "labelPadding": 2, "labelFlush": true, "labelOverlap": false, "labelOffset": -1, "zindex": 1}},
            "y2": {"datum": 0},
            "color": {"field": "d", "type": "nominal", "legend": null, "scale": {"domain": ["up", "down"], "range": ["#008000", "#ff0000"]}}
          }
        },
        {
          "data": {"values": [{"i": 0.5, "v": 0.438, "label": "ACcust 0.4103"}]},
          "mark": {"type": "text", "align": "left", "baseline": "middle", "fontSize": 9.5, "color": "black"},
          "encoding": {"y": {"field": "v", "type": "quantitative"}, "text": {"field": "label"}}
        }
      ]
    },
    {
      "width": 1235,
      "height": 100,
      "encoding": {
        "x": {"field": "i", "type": "quantitative", "scale": {"domain": [0, 154.375], "nice": false, "zero": false, "padding": 0},
          "axis": {"values": [0,4,8,12,16,20,24,28,32,36,40,44,48,52,56,60,64,68,72,76,80,84,88,92,96,100,104,108,112,116,120,124,128,132,136,140,144,148,152],
            "grid": true, "gridOpacity": {"condition": {"test": "datum.value == 0", "value": 0}, "value": 1},
            "tickSize": 4, "labelAlign": "left", "labelPadding": -1, "labelOffset": -1.5, "labelBaseline": "top", "labelOverlap": false,
            "tickOpacity": {"condition": {"test": "datum.value % 8 == 0 && datum.value <= 136", "value": 1}, "value": 0},
            "labelExpr": "datum.value % 8 == 0 && datum.value <= 136 ? ['24 Feb 2025','24 Feb 21:00','25 Feb 08:00','25 Feb 16:00','26 Feb 03:00','26 Feb 11:00','26 Feb 19:00','27 Feb 06:00','27 Feb 14:00','27 Feb 22:00','28 Feb 09:00','28 Feb 17:00','3 Mar 02:00','3 Mar 10:00','3 Mar 18:00','4 Mar 05:00','4 Mar 13:00','4 Mar 21:00'][datum.value / 8] : ''"}}
      },
      "layer": [
        {
          "data": {"name": "gator"},
          "mark": {"type": "bar", "size": 4, "orient": "vertical", "clip": true},
          "encoding": {
            "y": {"field": "v", "type": "quantitative", "scale": {"domain": [-0.855, 0.825], "nice": false, "zero": false},
              "axis": {"orient": "right", "values": [0.825, 0, -0.855], "format": ".3f", "grid": true, "gridOpacity": {"condition": {"test": "datum.value == 0", "value": 1}, "value": 0}, "tickSize": 4, "labelPadding": 2, "labelFlush": true, "labelOverlap": false, "labelOffset": -1, "zindex": 1}},
            "y2": {"datum": 0},
            "color": {"field": "d", "type": "nominal", "legend": null, "scale": {"domain": ["up", "down"], "range": ["#008000", "#ff0000"]}}
          }
        },
        {
          "data": {"values": [{"i": 0.5, "v": 0.684, "label": "GatorCust 0.245 -0.009"}]},
          "mark": {"type": "text", "align": "left", "baseline": "middle", "fontSize": 9.5, "color": "black"},
          "encoding": {"y": {"field": "v", "type": "quantitative"}, "text": {"field": "label"}}
        }
      ]
    }
  ]
}
